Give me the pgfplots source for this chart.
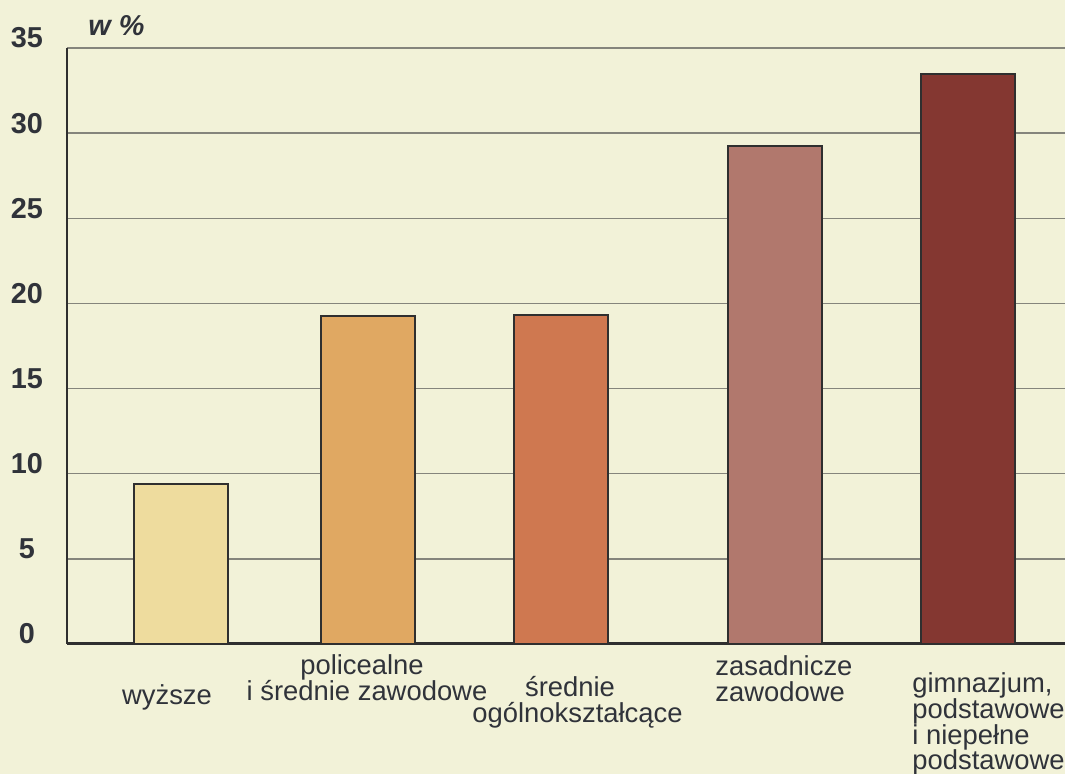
\documentclass[border=0pt]{standalone}
\usepackage{fontspec}
\setmainfont{Liberation Sans}
\usepackage{pgfplots}
\pgfplotsset{compat=1.18}
\definecolor{bg}{HTML}{F2F2D8}
\definecolor{txt}{HTML}{30333A}
\definecolor{axcol}{HTML}{2F2F2F}
\definecolor{gridcol}{HTML}{85857C}
\definecolor{cA}{HTML}{EEDC9E}
\definecolor{cB}{HTML}{E0A862}
\definecolor{cC}{HTML}{CF7850}
\definecolor{cD}{HTML}{B1786D}
\definecolor{cE}{HTML}{843731}
\begin{document}
\begin{tikzpicture}[x=1pt,y=1pt]
\fill[bg] (-33.5,-65) rectangle (499,322);
\begin{axis}[at={(0,0)},anchor=south west,scale only axis,width=499pt,height=298pt,
  xmin=67,xmax=1065,ymin=0,ymax=35,
  axis lines=left,axis line style={draw=axcol,line width=1pt,-},
  x axis line style={line width=1.5pt},
  xtick=\empty,ytick={0,5,...,35},major tick length=0pt,
  ymajorgrids,grid style={gridcol,line width=0.75pt},
  /pgf/number format/assume math mode=true,
  yticklabel style={font=\fontsize{14.4}{16}\selectfont\bfseries,text=txt,
    anchor=center,xshift=-20pt,yshift=5pt},
  clip=false]
 \addplot[ybar,bar width=94,fill=cA,draw=axcol,line width=1pt] coordinates {(181,9.4)};
 \addplot[ybar,bar width=94,fill=cB,draw=axcol,line width=1pt] coordinates {(368,19.25)};
 \addplot[ybar,bar width=94,fill=cC,draw=axcol,line width=1pt] coordinates {(560.5,19.3)};
 \addplot[ybar,bar width=94,fill=cD,draw=axcol,line width=1pt] coordinates {(774.5,29.25)};
 \addplot[ybar,bar width=94,fill=cE,draw=axcol,line width=1pt] coordinates {(967.5,33.45)};
\end{axis}
\begin{scope}[every node/.style={inner sep=0pt,text=txt,font=\fontsize{13.7}{14}\selectfont}]
 \node[anchor=base] at (50,-30.5) {wyższe};
 \node[anchor=base] at (147.5,-15.5) {policealne};
 \node[anchor=base] at (150,-28.5) {i średnie zawodowe};
 \node[anchor=base] at (251.5,-26.5) {średnie};
 \node[anchor=base] at (255.25,-39.5) {ogólnokształcące};
 \node[anchor=base west] at (324,-16) {zasadnicze};
 \node[anchor=base west] at (324,-29) {zawodowe};
 \node[anchor=base west] at (422.5,-24.5) {gimnazjum,};
 \node[anchor=base west] at (422.5,-37.5) {podstawowe};
 \node[anchor=base west] at (422.5,-50.5) {i niepełne};
 \node[anchor=base west] at (422.5,-63) {podstawowe};
 \node[anchor=base west,font=\fontsize{14.4}{16}\selectfont\bfseries\itshape] at (10.5,304) {w \%};
\end{scope}
\pgfresetboundingbox
\path[use as bounding box] (-33.5,-65) rectangle (499,322);
\end{tikzpicture}
\end{document}
